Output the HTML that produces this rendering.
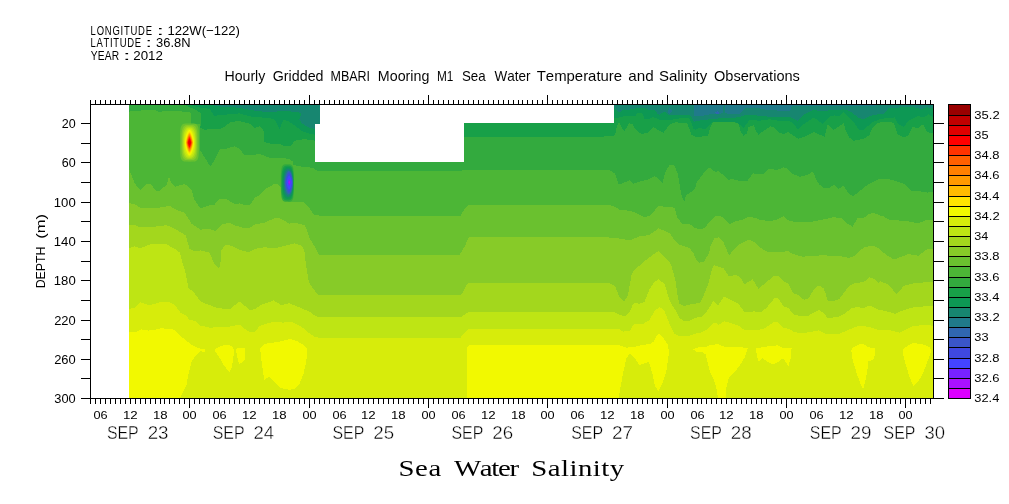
<!DOCTYPE html><html><head><meta charset="utf-8"><style>html,body{margin:0;padding:0;background:#fff;overflow:hidden;}svg{display:block;will-change:transform;}text{font-family:"Liberation Sans",sans-serif;font-kerning:none;fill:#000;}</style></head><body>
<svg width="1009" height="504" viewBox="0 0 1009 504">
<rect width="1009" height="504" fill="#fff"/>
<text transform="translate(91.40,35.20) scale(0.740,1)" x="-1.05" y="0" font-size="12.80" textLength="82.95" lengthAdjust="spacing" style='font-family:"Liberation Sans",sans-serif'>LONGITUDE</text>
<text x="156.61" y="35.20" font-size="12.80" textLength="7.59" lengthAdjust="spacingAndGlyphs" style='font-family:"Liberation Sans",sans-serif'>:</text>
<text x="167.40" y="35.20" font-size="12.80" textLength="72.61" lengthAdjust="spacingAndGlyphs" style='font-family:"Liberation Sans",sans-serif'>122W(−122)</text>
<text transform="translate(91.40,47.00) scale(0.740,1)" x="-1.05" y="0" font-size="12.80" textLength="68.09" lengthAdjust="spacing" style='font-family:"Liberation Sans",sans-serif'>LATITUDE</text>
<text x="145.59" y="47.00" font-size="12.80" textLength="6.42" lengthAdjust="spacingAndGlyphs" style='font-family:"Liberation Sans",sans-serif'>:</text>
<text x="156.11" y="47.00" font-size="12.80" textLength="34.44" lengthAdjust="spacingAndGlyphs" style='font-family:"Liberation Sans",sans-serif'>36.8N</text>
<text transform="translate(90.90,60.10) scale(0.800,1)" x="-0.28" y="0" font-size="12.80" textLength="35.62" lengthAdjust="spacing" style='font-family:"Liberation Sans",sans-serif'>YEAR</text>
<text x="122.91" y="60.10" font-size="12.80" textLength="7.59" lengthAdjust="spacingAndGlyphs" style='font-family:"Liberation Sans",sans-serif'>:</text>
<text x="133.23" y="60.10" font-size="12.80" textLength="29.64" lengthAdjust="spacingAndGlyphs" style='font-family:"Liberation Sans",sans-serif'>2012</text>
<text x="224.44" y="80.60" font-size="14.10" textLength="40.89" lengthAdjust="spacingAndGlyphs" style='font-family:"Liberation Sans",sans-serif' stroke="#fff" stroke-width="0.03">Hourly</text>
<text x="272.78" y="80.60" font-size="14.10" textLength="50.74" lengthAdjust="spacingAndGlyphs" style='font-family:"Liberation Sans",sans-serif' stroke="#fff" stroke-width="0.03">Gridded</text>
<text x="330.47" y="80.60" font-size="14.10" textLength="39.58" lengthAdjust="spacingAndGlyphs" style='font-family:"Liberation Sans",sans-serif' stroke="#fff" stroke-width="0.03">MBARI</text>
<text x="377.83" y="80.60" font-size="14.10" textLength="51.49" lengthAdjust="spacingAndGlyphs" style='font-family:"Liberation Sans",sans-serif' stroke="#fff" stroke-width="0.03">Mooring</text>
<text x="436.93" y="80.60" font-size="14.10" textLength="16.45" lengthAdjust="spacingAndGlyphs" style='font-family:"Liberation Sans",sans-serif' stroke="#fff" stroke-width="0.03">M1</text>
<text x="461.90" y="80.60" font-size="14.10" textLength="23.70" lengthAdjust="spacingAndGlyphs" style='font-family:"Liberation Sans",sans-serif' stroke="#fff" stroke-width="0.03">Sea</text>
<text x="494.44" y="80.60" font-size="14.10" textLength="35.98" lengthAdjust="spacingAndGlyphs" style='font-family:"Liberation Sans",sans-serif' stroke="#fff" stroke-width="0.03">Water</text>
<text x="536.77" y="80.60" font-size="14.10" textLength="85.30" lengthAdjust="spacingAndGlyphs" style='font-family:"Liberation Sans",sans-serif' stroke="#fff" stroke-width="0.03">Temperature</text>
<text x="628.25" y="80.60" font-size="14.10" textLength="25.43" lengthAdjust="spacingAndGlyphs" style='font-family:"Liberation Sans",sans-serif' stroke="#fff" stroke-width="0.03">and</text>
<text x="658.92" y="80.60" font-size="14.10" textLength="48.31" lengthAdjust="spacingAndGlyphs" style='font-family:"Liberation Sans",sans-serif' stroke="#fff" stroke-width="0.03">Salinity</text>
<text x="714.01" y="80.60" font-size="14.10" textLength="85.92" lengthAdjust="spacingAndGlyphs" style='font-family:"Liberation Sans",sans-serif' stroke="#fff" stroke-width="0.03">Observations</text>
<defs><clipPath id="dc"><rect x="129" y="105" width="804" height="293"/></clipPath></defs>
<g clip-path="url(#dc)" shape-rendering="crispEdges">
<rect x="129" y="104" width="804" height="294" fill="#f2f900"/>
<polygon fill="#d7ec0b" points="124.0,99.0 124.0,332.5 129.0,332.5 136.0,332.0 140.9,329.4 148.8,330.6 156.7,329.4 160.7,328.2 172.6,329.4 176.6,331.7 180.6,336.5 185.3,339.7 191.7,345.0 197.9,348.0 205.2,349.6 204.5,352.0 200.0,351.0 196.0,355.0 191.7,361.7 188.5,374.0 186.5,384.6 181.3,395.0 179.0,402.0 467.2,402.0 467.2,347.0 469.0,345.5 600.0,345.4 614.9,345.0 617.9,344.8 626.2,347.7 635.7,346.5 644.6,344.6 650.0,344.2 653.6,341.5 656.5,335.7 659.5,333.7 664.5,339.7 667.9,344.8 669.0,351.9 666.7,369.8 663.1,381.7 658.3,391.8 654.8,385.2 652.4,373.3 648.8,362.0 639.3,365.0 634.5,357.9 629.8,353.1 626.2,359.0 622.6,375.7 619.6,392.4 618.5,402.0 938.0,402.0 938.0,402.0 938.0,99.0"/>
<polygon fill="#bee514" points="124.0,99.0 124.0,308.7 129.0,308.7 134.9,308.2 139.9,302.3 144.0,303.5 149.8,305.3 156.7,303.2 159.7,302.3 169.6,302.3 174.6,304.8 180.6,312.7 185.3,315.0 189.5,319.6 196.4,321.6 200.0,325.4 209.5,327.7 221.4,327.1 230.0,326.5 239.3,324.5 244.0,328.3 250.0,332.5 254.8,332.0 259.5,326.0 263.1,324.8 273.8,321.5 283.3,322.7 290.5,321.5 301.2,326.5 307.1,331.5 314.3,336.7 318.8,337.6 460.7,337.6 464.0,333.0 468.7,328.7 470.0,329.0 600.0,328.8 619.8,329.3 622.8,331.7 629.8,330.8 633.7,324.3 642.7,324.3 649.6,319.8 654.6,310.9 659.5,306.9 664.5,310.9 669.4,323.8 674.4,333.7 679.4,336.2 689.3,335.7 695.2,333.7 701.0,332.7 704.9,330.8 709.9,326.8 714.8,322.3 718.8,324.8 723.8,321.3 729.7,322.8 738.7,325.8 744.6,330.3 756.5,330.3 764.4,328.3 773.4,322.3 778.3,322.3 783.3,327.8 789.2,328.8 794.0,332.2 802.9,333.2 811.8,331.7 818.8,330.3 826.7,334.2 839.6,333.7 849.5,329.3 857.5,326.3 865.4,326.3 872.3,327.8 877.3,329.8 880.0,329.8 890.9,330.4 899.7,332.6 912.8,326.1 923.7,325.0 938.0,326.0 938.0,326.0 938.0,99.0"/>
<polygon fill="#a3d71d" points="124.0,99.0 124.0,247.9 129.0,247.9 134.9,246.4 139.9,248.4 149.8,244.4 166.7,244.4 176.6,249.9 180.1,252.9 182.5,262.8 185.5,272.7 186.0,275.0 188.5,287.9 194.4,292.9 200.0,301.0 206.0,303.9 217.9,308.1 229.8,309.3 239.3,301.5 250.0,309.9 254.8,309.3 261.9,304.5 273.8,300.4 281.0,305.1 289.3,303.3 301.2,308.1 309.5,311.7 313.0,314.5 318.8,317.3 460.7,317.3 464.0,315.0 468.7,311.8 600.0,311.9 614.9,312.4 619.8,314.9 624.8,316.4 629.8,311.9 632.7,305.0 634.7,303.0 639.7,303.7 644.6,301.7 649.6,288.8 654.6,281.8 658.5,279.3 664.5,283.8 669.4,299.7 671.4,304.0 675.4,309.9 679.4,317.9 684.3,321.3 689.3,320.8 695.2,317.9 701.0,316.9 704.9,313.9 709.9,306.9 713.4,301.0 717.8,305.5 721.8,300.0 723.8,296.2 732.7,300.7 738.7,304.0 744.6,312.4 754.5,311.4 760.5,312.4 766.4,307.9 771.4,302.0 774.4,298.2 778.3,298.2 783.3,306.1 789.2,308.6 793.0,314.2 799.9,315.9 807.9,315.9 813.8,312.4 818.8,309.9 823.7,312.9 827.7,318.4 839.6,316.4 845.6,312.9 851.5,308.4 857.5,306.9 863.4,308.4 868.4,305.5 874.3,307.4 877.3,309.4 880.0,309.7 888.7,311.9 895.3,314.1 901.8,310.8 912.8,307.5 923.7,306.4 938.0,306.4 938.0,306.4 938.0,99.0"/>
<polygon fill="#87cb28" points="124.0,99.0 124.0,225.2 129.0,225.2 134.9,225.2 139.9,227.5 154.8,226.7 166.7,225.2 174.6,228.7 184.5,234.6 185.5,235.0 189.5,248.9 194.4,251.4 200.4,250.4 209.3,252.4 214.3,263.8 219.2,268.7 220.5,262.0 221.5,250.0 225.0,245.3 229.9,245.3 239.8,249.8 248.8,252.3 254.7,248.8 264.6,247.3 274.6,248.3 284.5,245.8 294.4,243.4 301.3,245.3 304.3,249.8 305.3,259.7 306.3,266.7 307.7,275.0 308.9,281.9 311.9,287.0 314.3,290.2 318.8,295.3 460.7,295.3 463.5,291.0 466.7,285.0 468.7,283.0 470.0,282.6 600.0,282.8 609.9,283.3 614.9,285.8 619.8,297.7 623.8,301.7 627.8,295.7 629.8,284.8 631.7,273.9 634.7,269.9 642.7,262.7 651.6,255.7 658.5,250.8 664.5,256.7 669.4,261.7 671.4,266.0 675.4,279.8 677.4,294.7 679.4,303.7 684.3,306.1 689.3,304.6 695.0,303.7 700.0,302.7 704.9,292.7 708.9,281.8 711.9,269.9 713.8,265.0 718.8,266.9 723.8,268.4 728.7,276.4 736.7,274.9 740.6,277.9 744.6,284.3 752.5,279.3 758.5,288.8 764.4,283.8 773.4,276.4 778.3,275.4 783.3,281.3 788.3,283.3 790.0,286.8 793.0,293.2 797.9,294.7 803.9,299.7 807.9,299.2 813.8,289.8 818.8,285.3 823.7,288.3 825.7,293.7 827.7,300.7 834.6,300.7 839.6,298.7 844.6,291.7 849.5,285.8 855.5,282.8 863.4,282.3 869.4,277.4 874.3,278.8 878.3,282.8 880.0,281.3 885.2,283.3 888.7,284.6 896.4,294.4 904.0,285.7 912.8,283.5 923.7,282.4 938.0,281.3 938.0,281.3 938.0,99.0"/>
<polygon fill="#6ac12f" points="124.0,99.0 124.0,202.9 129.0,202.9 134.9,204.4 140.9,207.9 154.8,208.4 169.6,205.9 176.6,209.8 184.5,212.8 188.5,218.8 191.5,223.7 200.4,229.7 209.3,228.7 215.3,231.2 220.2,226.7 223.0,223.7 229.9,223.2 234.9,225.6 239.8,226.6 244.8,228.5 249.8,227.6 254.7,224.6 264.6,222.7 274.6,218.2 279.5,218.2 284.5,220.7 289.4,223.7 294.4,222.7 299.4,223.7 304.3,225.0 307.3,231.0 309.3,237.9 314.2,245.8 318.8,254.6 459.7,254.6 464.7,246.6 468.7,237.3 470.0,237.4 600.0,236.9 614.9,237.9 629.8,240.3 639.7,236.4 649.6,234.9 658.5,228.4 669.4,232.9 675.4,241.3 679.4,244.8 689.3,247.8 693.3,252.7 695.2,258.0 699.0,262.7 703.9,261.7 708.9,253.7 710.9,244.8 714.8,237.9 718.8,237.4 723.8,242.8 726.7,249.8 729.2,255.2 734.7,248.8 739.6,244.3 749.1,239.3 754.5,242.3 759.5,247.3 766.4,251.3 770.4,252.2 781.3,251.7 788.3,251.3 790.0,252.7 795.0,254.7 802.9,256.7 822.7,255.2 844.6,256.7 848.5,258.2 854.5,255.7 859.4,250.8 865.4,246.8 873.3,245.8 879.3,248.8 880.0,249.7 886.6,255.1 894.2,259.5 908.4,254.0 918.2,255.8 928.0,248.6 938.0,249.7 938.0,249.7 938.0,99.0"/>
<polygon fill="#4cb636" points="124.0,99.0 124.0,169.3 129.0,169.3 131.0,173.8 134.9,183.7 140.4,190.2 145.8,184.2 150.8,184.2 155.8,190.7 159.7,190.7 166.7,184.7 169.1,176.3 170.6,181.7 175.6,186.7 179.6,185.2 184.5,184.2 188.5,186.7 191.5,190.0 194.4,199.9 200.4,208.4 209.3,205.4 214.3,204.9 219.2,198.9 226.0,198.8 234.9,204.3 239.8,203.3 244.8,205.3 249.8,205.3 254.7,197.9 259.7,195.4 264.6,189.4 269.6,186.9 274.6,183.5 277.5,183.5 280.5,186.9 283.5,199.8 289.4,202.3 304.3,202.3 309.3,207.8 312.3,212.7 315.2,215.2 320.0,215.6 460.7,215.5 464.0,210.0 468.7,205.0 470.0,205.2 600.0,204.8 609.9,205.3 614.9,206.8 619.8,209.8 629.8,210.8 635.7,212.7 644.6,217.2 649.6,215.7 658.5,206.3 669.4,206.8 674.4,207.8 677.4,217.7 682.3,223.7 689.3,223.7 695.0,227.9 701.0,229.4 704.9,227.9 708.9,222.7 715.8,216.2 720.8,216.2 724.8,219.2 729.2,224.1 734.7,221.7 742.6,219.7 748.6,216.7 754.5,217.7 759.5,219.7 769.4,221.2 776.3,219.7 783.3,216.2 788.3,220.2 790.0,220.7 795.0,222.2 809.8,222.2 819.8,220.2 833.7,217.2 841.6,218.2 847.5,223.7 852.5,226.6 857.5,218.2 863.4,218.2 869.4,213.7 874.3,213.2 880.0,215.4 884.2,216.7 887.9,219.4 907.8,221.3 917.7,223.3 925.6,220.4 938.0,220.4 938.0,220.4 938.0,99.0"/>
<polygon fill="#33aa3e" points="124.0,99.0 124.0,111.9 129.0,111.9 131.0,110.9 139.9,110.9 141.9,109.9 154.8,109.9 158.7,111.9 162.7,111.4 172.6,110.9 180.6,111.4 189.5,112.4 191.0,114.0 191.0,124.0 199.5,124.0 199.8,149.8 204.8,157.7 206.3,159.9 210.3,166.5 214.3,160.9 218.3,152.0 220.0,149.0 225.0,148.9 234.9,146.4 239.8,148.9 243.8,154.9 249.8,155.4 259.7,153.9 269.6,157.9 279.5,157.9 289.4,158.8 292.9,161.8 293.4,164.8 299.4,166.3 309.3,167.3 313.0,168.0 318.0,171.4 458.7,171.4 464.7,169.8 470.0,169.8 600.0,169.8 609.9,170.3 614.9,173.7 618.8,184.6 624.8,182.2 629.8,180.2 633.7,183.7 639.7,181.7 647.6,179.7 654.6,176.2 658.5,178.7 662.5,182.7 665.5,171.7 669.4,165.3 674.4,165.3 677.4,172.7 678.9,180.0 680.4,189.9 682.3,197.9 684.3,201.3 686.3,194.9 691.3,191.9 695.2,187.9 697.0,181.7 701.0,176.7 704.9,171.7 708.9,167.3 714.8,171.7 718.8,171.3 728.7,179.7 732.7,179.2 738.7,180.7 747.6,180.7 753.5,172.7 754.5,173.7 763.5,173.7 768.4,168.8 772.4,168.8 774.4,169.8 780.3,169.3 783.3,167.3 787.3,168.3 792.2,173.7 795.0,174.7 799.9,176.7 807.9,174.7 812.8,171.7 813.8,173.7 816.8,180.7 819.8,185.0 824.7,188.4 829.7,187.9 833.7,184.5 838.6,188.9 843.6,185.5 847.5,191.9 852.5,196.4 857.5,192.9 867.4,185.0 877.3,180.0 880.0,178.7 891.9,179.7 903.8,183.7 911.7,191.2 919.7,191.2 927.6,192.6 938.0,191.2 938.0,191.2 938.0,99.0"/>
<polygon fill="#18a048" points="124.0,99.0 124.0,95.0 124.0,95.0 180.0,95.0 183.5,104.5 188.5,107.0 194.4,108.9 200.4,112.9 201.4,114.9 200.4,127.8 204.4,129.8 214.3,128.8 220.0,128.8 225.0,126.8 229.9,122.3 234.5,121.5 239.8,121.3 249.8,123.8 254.7,127.8 259.7,126.3 263.7,130.8 263.7,142.0 269.6,143.5 279.5,144.0 284.5,146.0 291.4,145.5 294.4,141.0 297.4,140.0 304.3,139.2 315.0,140.7 320.0,150.0 463.0,160.0 464.0,136.8 600.0,136.8 613.9,135.7 615.4,133.7 616.9,125.8 619.3,122.3 621.8,127.8 624.3,131.7 628.8,123.3 632.7,124.3 635.7,129.8 641.7,134.2 647.6,132.7 653.6,127.3 659.5,130.8 663.5,132.7 669.4,124.8 675.4,122.3 687.3,123.3 689.3,128.8 691.3,134.7 695.2,136.7 700.0,136.7 704.0,136.2 707.9,135.7 710.9,125.8 712.9,122.3 734.7,122.3 738.7,123.8 740.6,131.7 743.6,135.7 746.6,133.7 748.6,126.8 753.5,125.3 756.5,131.7 758.5,134.7 764.4,130.3 770.4,126.3 774.4,127.8 779.3,132.7 784.3,134.2 788.3,131.3 790.0,133.2 797.9,138.7 804.9,136.7 813.8,132.2 824.7,136.7 827.7,124.3 833.7,129.8 843.6,123.3 845.6,129.8 849.5,137.7 853.5,140.7 863.4,139.0 869.6,134.8 872.3,127.8 877.5,123.0 884.2,121.8 890.2,121.9 893.8,123.2 897.3,133.9 903.6,137.5 908.0,135.7 912.5,126.8 917.9,128.1 923.2,124.1 926.8,132.1 938.0,133.9 938.0,133.9 938.0,99.0"/>
<polygon fill="#0d9854" points="124.0,99.0 124.0,95.0 124.0,95.0 185.0,95.0 188.5,104.5 194.4,106.0 200.4,107.5 209.3,108.9 212.3,112.9 214.3,115.9 220.2,114.9 225.0,114.9 229.9,113.9 239.8,113.4 249.8,116.4 259.7,117.4 269.6,117.9 274.6,119.8 279.5,128.8 283.5,119.8 289.4,121.8 295.4,125.8 301.3,130.8 309.3,133.7 315.0,134.7 320.0,130.0 464.0,120.0 600.0,120.0 613.9,117.7 618.5,117.7 622.7,116.5 631.6,116.4 636.0,115.5 637.1,113.1 641.9,113.1 643.0,114.5 643.9,117.1 644.7,119.5 647.8,119.1 650.2,118.3 653.1,117.1 656.7,118.3 659.0,119.5 665.0,120.0 670.0,120.1 679.4,118.4 689.3,118.4 691.3,122.8 693.3,128.8 695.2,129.8 700.0,127.8 704.9,129.3 709.9,124.8 712.0,122.5 734.7,121.8 741.6,125.8 743.6,127.8 749.6,119.8 759.5,120.8 769.4,119.3 779.3,120.8 789.2,121.3 793.0,122.8 797.9,129.8 802.9,124.8 813.8,117.4 822.7,123.8 829.7,116.4 834.6,115.4 838.6,116.4 843.6,112.4 849.5,117.9 854.5,123.2 858.9,129.5 863.4,129.9 872.3,122.3 881.3,118.8 894.6,117.4 898.2,124.1 903.6,126.8 908.9,120.5 917.9,116.1 924.1,117.4 928.6,114.3 938.0,121.4 938.0,121.4 938.0,99.0"/>
<polygon fill="#178670" points="124.0,99.0 124.0,95.0 124.0,95.0 205.0,95.0 209.3,104.5 214.0,105.5 220.0,106.5 229.9,106.9 239.8,107.9 249.8,109.9 259.7,111.4 269.6,111.9 279.5,111.4 289.4,111.4 297.4,111.9 301.3,113.9 299.4,119.8 302.3,123.8 309.3,127.8 315.0,128.8 320.0,128.0 322.0,110.0 600.0,110.0 613.9,108.2 614.4,108.2 619.1,112.6 623.9,109.4 628.0,109.8 633.0,109.2 636.0,108.2 645.0,108.2 648.2,109.6 654.9,110.0 657.3,113.5 659.6,114.7 663.8,111.7 666.0,112.5 668.0,114.9 674.8,115.4 684.7,114.9 689.3,114.5 692.7,118.8 693.7,121.8 700.0,120.5 704.6,119.8 714.8,118.8 724.4,117.9 739.6,117.4 741.2,115.9 744.6,115.4 754.5,115.2 764.4,116.4 774.4,116.9 784.3,116.9 790.0,116.9 797.9,120.8 804.9,113.9 812.8,109.9 819.8,110.9 829.7,110.4 843.6,109.4 849.5,110.9 858.9,117.9 863.4,119.2 872.3,115.2 884.8,113.4 888.4,108.5 903.6,107.1 912.5,107.1 921.4,108.9 926.8,107.1 938.0,109.8 938.0,109.8 938.0,99.0"/>
<polygon fill="#207a8a" points="124.0,99.0 124.0,95.0 124.0,95.0 660.0,95.0 690.0,100.0 693.7,104.0 693.7,110.0 694.2,115.9 702.6,115.9 709.5,114.4 714.5,113.9 723.3,113.4 723.6,104.5 724.6,104.5 724.9,113.4 734.3,113.9 740.2,113.9 742.2,111.4 745.0,108.5 754.5,107.4 764.4,109.4 774.4,110.4 784.3,110.9 790.0,110.9 792.0,106.0 819.8,105.5 849.5,106.4 864.4,106.0 875.0,106.2 880.0,100.0 938.0,95.0 938.0,95.0 938.0,99.0"/>
<polygon fill="#f2f900" points="214.6,349.2 221.4,345.6 228.6,345.0 232.7,346.8 233.9,349.8 233.3,359.3 231.5,367.6 229.2,372.4 223.8,365.2 219.0,356.9 215.5,352.1"/>
<polygon fill="#f2f900" points="235.7,348.6 245.0,348.0 245.0,359.3 239.3,364.6 237.5,358.1 236.3,352.1"/>
<polygon fill="#f2f900" points="260.1,348.6 264.3,343.8 273.8,342.6 283.3,340.8 290.5,339.0 297.6,341.4 303.6,345.0 307.1,349.2 306.5,359.3 305.5,365.0 303.5,373.8 299.5,383.7 294.1,389.2 288.6,389.7 279.7,387.7 273.7,381.7 269.3,376.3 264.3,379.8 262.8,369.8 261.3,359.9"/>
<polygon fill="#f2f900" points="692.9,349.2 698.1,347.3 705.8,347.3 711.0,344.7 718.7,344.3 723.9,346.6 741.9,347.3 747.7,348.5 744.5,357.6 739.4,366.0 734.2,372.4 729.0,377.6 726.5,386.6 725.8,399.0 718.1,399.0 716.1,386.6 713.5,378.9 709.7,371.1 707.1,360.8 705.8,354.4 701.9,351.8 696.8,351.8"/>
<polygon fill="#f2f900" points="756.1,348.5 762.6,347.3 770.3,346.0 778.1,345.3 783.2,347.9 791.6,347.9 791.0,356.9 788.4,366.0 783.2,358.2 778.1,362.1 772.9,364.7 767.7,362.1 762.6,358.2 758.7,362.1 756.8,355.6"/>
<polygon fill="#f2f900" points="851.6,348.5 858.1,344.7 863.2,343.4 867.7,347.3 874.8,347.9 875.5,353.1 873.5,359.5 869.7,360.8 868.4,360.8 867.1,372.4 865.2,381.5 863.2,389.8 860.6,384.0 856.8,373.7 852.9,360.8 851.4,351.8"/>
<polygon fill="#f2f900" points="903.2,349.2 908.4,345.3 913.5,342.7 918.7,344.0 925.2,344.7 930.3,347.9 931.0,351.8 927.7,360.8 923.9,371.1 920.0,378.9 913.5,386.0 909.7,377.6 905.8,364.7 903.2,354.4"/>
<polygon fill="#207a8a" points="667.4,111.2 669.8,108.0 672.3,111.2 669.8,114.4"/>
<polygon fill="#3066b0" points="715.5,112.5 717.5,111.4 719.4,112.0 718.5,113.9 716.0,113.6"/>
<polygon fill="#fff" points="320.0,100.0 614.0,100.0 614.0,123.0 464.0,123.0 464.0,162.0 315.0,162.0 315.0,124.0 320.0,124.0"/>
</g>
<polygon fill="#6ac12f" points="198.9,142.6 198.9,151.1 198.8,153.7 198.6,155.6 198.4,157.1 198.1,158.3 197.7,159.2 197.2,160.0 196.6,160.6 195.9,161.1 195.0,161.4 193.7,161.6 189.5,161.7 185.3,161.6 184.0,161.4 183.1,161.1 182.4,160.6 181.8,160.0 181.3,159.2 180.9,158.3 180.6,157.1 180.4,155.6 180.2,153.7 180.1,151.1 180.1,142.6 180.1,134.1 180.2,131.5 180.4,129.6 180.6,128.1 180.9,126.9 181.3,126.0 181.8,125.2 182.4,124.6 183.1,124.1 184.0,123.8 185.3,123.6 189.5,123.5 193.7,123.6 195.0,123.8 195.9,124.1 196.6,124.6 197.2,125.2 197.7,126.0 198.1,126.9 198.4,128.1 198.6,129.6 198.8,131.5 198.9,134.1"/>
<polygon fill="#87cb28" points="197.5,142.6 197.5,149.0 197.4,151.6 197.2,153.5 196.9,155.0 196.6,156.3 196.2,157.4 195.7,158.3 195.2,159.0 194.4,159.5 193.6,159.9 192.4,160.1 189.5,160.2 186.6,160.1 185.4,159.9 184.6,159.5 183.8,159.0 183.3,158.3 182.8,157.4 182.4,156.3 182.1,155.0 181.8,153.5 181.6,151.6 181.5,149.0 181.5,142.6 181.5,136.2 181.6,133.6 181.8,131.7 182.1,130.2 182.4,128.9 182.8,127.8 183.3,126.9 183.8,126.2 184.6,125.7 185.4,125.3 186.6,125.1 189.5,125.0 192.4,125.1 193.6,125.3 194.4,125.7 195.2,126.2 195.7,126.9 196.2,127.8 196.6,128.9 196.9,130.2 197.2,131.7 197.4,133.6 197.5,136.2"/>
<polygon fill="#a3d71d" points="196.5,142.6 196.5,147.2 196.3,149.6 196.2,151.6 195.9,153.2 195.6,154.6 195.1,155.8 194.6,156.8 194.0,157.6 193.3,158.2 192.5,158.6 191.5,158.9 189.5,159.0 187.5,158.9 186.5,158.6 185.7,158.2 185.0,157.6 184.4,156.8 183.9,155.8 183.4,154.6 183.1,153.2 182.8,151.6 182.7,149.6 182.5,147.2 182.5,142.6 182.5,138.0 182.7,135.6 182.8,133.6 183.1,132.0 183.4,130.6 183.9,129.4 184.4,128.4 185.0,127.6 185.7,127.0 186.5,126.6 187.5,126.3 189.5,126.2 191.5,126.3 192.5,126.6 193.3,127.0 194.0,127.6 194.6,128.4 195.1,129.4 195.6,130.6 195.9,132.0 196.2,133.6 196.3,135.6 196.5,138.0"/>
<polygon fill="#bee514" points="195.6,142.6 195.6,145.8 195.4,148.0 195.2,149.9 195.0,151.5 194.6,153.0 194.2,154.2 193.7,155.3 193.1,156.2 192.4,156.9 191.7,157.4 190.8,157.7 189.5,157.8 188.2,157.7 187.3,157.4 186.6,156.9 185.9,156.2 185.3,155.3 184.8,154.2 184.4,153.0 184.0,151.5 183.8,149.9 183.6,148.0 183.4,145.8 183.4,142.6 183.4,139.4 183.6,137.2 183.8,135.3 184.0,133.7 184.4,132.2 184.8,131.0 185.3,129.9 185.9,129.0 186.6,128.3 187.3,127.8 188.2,127.5 189.5,127.4 190.8,127.5 191.7,127.8 192.4,128.3 193.1,129.0 193.7,129.9 194.2,131.0 194.6,132.2 195.0,133.7 195.2,135.3 195.4,137.2 195.6,139.4"/>
<polygon fill="#d7ec0b" points="194.8,142.6 194.8,144.6 194.6,146.5 194.4,148.2 194.1,149.8 193.8,151.3 193.3,152.7 192.8,153.8 192.2,154.8 191.6,155.6 191.0,156.1 190.3,156.5 189.5,156.6 188.7,156.5 188.0,156.1 187.4,155.6 186.8,154.8 186.2,153.8 185.7,152.7 185.2,151.3 184.9,149.8 184.6,148.2 184.4,146.5 184.2,144.6 184.2,142.6 184.2,140.6 184.4,138.7 184.6,137.0 184.9,135.4 185.2,133.9 185.7,132.5 186.2,131.4 186.8,130.4 187.4,129.6 188.0,129.1 188.7,128.7 189.5,128.6 190.3,128.7 191.0,129.1 191.6,129.6 192.2,130.4 192.8,131.4 193.3,132.5 193.8,133.9 194.1,135.4 194.4,137.0 194.6,138.7 194.8,140.6"/>
<polygon fill="#f2f900" points="194.0,142.6 194.0,143.8 193.8,145.2 193.6,146.7 193.3,148.3 192.9,149.7 192.5,151.1 192.0,152.3 191.5,153.4 191.0,154.3 190.4,154.9 189.9,155.3 189.5,155.4 189.1,155.3 188.6,154.9 188.0,154.3 187.5,153.4 187.0,152.3 186.5,151.1 186.1,149.7 185.7,148.3 185.4,146.7 185.2,145.2 185.0,143.8 185.0,142.6 185.0,141.4 185.2,140.0 185.4,138.5 185.7,136.9 186.1,135.5 186.5,134.1 187.0,132.9 187.5,131.8 188.0,130.9 188.6,130.3 189.1,129.9 189.5,129.8 189.9,129.9 190.4,130.3 191.0,130.9 191.5,131.8 192.0,132.9 192.5,134.1 192.9,135.5 193.3,136.9 193.6,138.5 193.8,140.0 194.0,141.4"/>
<polygon fill="#ffe400" points="193.4,142.6 193.4,143.4 193.2,144.5 193.0,145.8 192.7,147.1 192.4,148.5 192.0,149.8 191.5,151.0 191.0,152.0 190.6,152.9 190.1,153.5 189.8,153.9 189.5,154.0 189.2,153.9 188.9,153.5 188.4,152.9 188.0,152.0 187.5,151.0 187.0,149.8 186.6,148.5 186.3,147.1 186.0,145.8 185.8,144.5 185.6,143.4 185.6,142.6 185.6,141.8 185.8,140.7 186.0,139.4 186.3,138.1 186.6,136.7 187.0,135.4 187.5,134.2 188.0,133.2 188.4,132.3 188.9,131.7 189.2,131.3 189.5,131.2 189.8,131.3 190.1,131.7 190.6,132.3 191.0,133.2 191.5,134.2 192.0,135.4 192.4,136.7 192.7,138.1 193.0,139.4 193.2,140.7 193.4,141.8"/>
<polygon fill="#ffbb00" points="192.9,142.6 192.9,143.1 192.7,144.1 192.5,145.1 192.3,146.3 191.9,147.5 191.6,148.7 191.2,149.8 190.8,150.7 190.4,151.5 190.0,152.1 189.7,152.5 189.5,152.6 189.3,152.5 189.0,152.1 188.6,151.5 188.2,150.7 187.8,149.8 187.4,148.7 187.1,147.5 186.7,146.3 186.5,145.1 186.3,144.1 186.1,143.1 186.1,142.6 186.1,142.1 186.3,141.1 186.5,140.1 186.7,138.9 187.1,137.7 187.4,136.5 187.8,135.4 188.2,134.5 188.6,133.7 189.0,133.1 189.3,132.7 189.5,132.6 189.7,132.7 190.0,133.1 190.4,133.7 190.8,134.5 191.2,135.4 191.6,136.5 191.9,137.7 192.3,138.9 192.5,140.1 192.7,141.1 192.9,142.1"/>
<polygon fill="#ff9a00" points="192.5,142.6 192.5,143.0 192.3,143.8 192.2,144.7 191.9,145.8 191.6,146.8 191.3,147.9 190.9,148.8 190.6,149.7 190.2,150.4 189.9,151.0 189.6,151.3 189.5,151.4 189.4,151.3 189.1,151.0 188.8,150.4 188.4,149.7 188.1,148.8 187.7,147.9 187.4,146.8 187.1,145.8 186.8,144.7 186.7,143.8 186.5,143.0 186.5,142.6 186.5,142.2 186.7,141.4 186.8,140.5 187.1,139.4 187.4,138.4 187.7,137.3 188.1,136.4 188.4,135.5 188.8,134.8 189.1,134.2 189.4,133.9 189.5,133.8 189.6,133.9 189.9,134.2 190.2,134.8 190.6,135.5 190.9,136.4 191.3,137.3 191.6,138.4 191.9,139.4 192.2,140.5 192.3,141.4 192.5,142.2"/>
<polygon fill="#ff8000" points="192.2,142.6 192.2,142.9 192.1,143.6 191.9,144.4 191.7,145.3 191.4,146.2 191.1,147.2 190.8,148.1 190.4,148.9 190.1,149.5 189.8,150.0 189.6,150.3 189.5,150.4 189.4,150.3 189.2,150.0 188.9,149.5 188.6,148.9 188.2,148.1 187.9,147.2 187.6,146.2 187.3,145.3 187.1,144.4 186.9,143.6 186.8,142.9 186.8,142.6 186.8,142.3 186.9,141.6 187.1,140.8 187.3,139.9 187.6,139.0 187.9,138.0 188.2,137.1 188.6,136.3 188.9,135.7 189.2,135.2 189.4,134.9 189.5,134.8 189.6,134.9 189.8,135.2 190.1,135.7 190.4,136.3 190.8,137.1 191.1,138.0 191.4,139.0 191.7,139.9 191.9,140.8 192.1,141.6 192.2,142.3"/>
<polygon fill="#ff6000" points="191.9,142.6 191.9,142.9 191.8,143.5 191.6,144.2 191.4,144.9 191.2,145.8 190.9,146.6 190.6,147.4 190.3,148.1 190.0,148.6 189.8,149.0 189.6,149.3 189.5,149.4 189.4,149.3 189.2,149.0 189.0,148.6 188.7,148.1 188.4,147.4 188.1,146.6 187.8,145.8 187.6,144.9 187.4,144.2 187.2,143.5 187.1,142.9 187.1,142.6 187.1,142.3 187.2,141.7 187.4,141.0 187.6,140.3 187.8,139.4 188.1,138.6 188.4,137.8 188.7,137.1 189.0,136.6 189.2,136.2 189.4,135.9 189.5,135.8 189.6,135.9 189.8,136.2 190.0,136.6 190.3,137.1 190.6,137.8 190.9,138.6 191.2,139.4 191.4,140.3 191.6,141.0 191.8,141.7 191.9,142.3"/>
<polygon fill="#ff3300" points="191.5,142.6 191.5,142.8 191.4,143.3 191.3,143.9 191.1,144.5 190.9,145.2 190.7,145.9 190.4,146.5 190.2,147.1 190.0,147.6 189.8,147.9 189.6,148.1 189.5,148.2 189.4,148.1 189.2,147.9 189.0,147.6 188.8,147.1 188.6,146.5 188.3,145.9 188.1,145.2 187.9,144.5 187.7,143.9 187.6,143.3 187.5,142.8 187.5,142.6 187.5,142.4 187.6,141.9 187.7,141.3 187.9,140.7 188.1,140.0 188.3,139.3 188.6,138.7 188.8,138.1 189.0,137.6 189.2,137.3 189.4,137.1 189.5,137.0 189.6,137.1 189.8,137.3 190.0,137.6 190.2,138.1 190.4,138.7 190.7,139.3 190.9,140.0 191.1,140.7 191.3,141.3 191.4,141.9 191.5,142.4"/>
<polygon fill="#ff0000" points="191.1,142.6 191.1,142.8 191.0,143.2 190.9,143.6 190.8,144.1 190.6,144.7 190.4,145.2 190.2,145.7 190.1,146.1 189.9,146.5 189.7,146.8 189.6,146.9 189.5,147.0 189.4,146.9 189.3,146.8 189.1,146.5 188.9,146.1 188.8,145.7 188.6,145.2 188.4,144.7 188.2,144.1 188.1,143.6 188.0,143.2 187.9,142.8 187.9,142.6 187.9,142.4 188.0,142.0 188.1,141.6 188.2,141.1 188.4,140.5 188.6,140.0 188.8,139.5 188.9,139.1 189.1,138.7 189.3,138.4 189.4,138.3 189.5,138.2 189.6,138.3 189.7,138.4 189.9,138.7 190.1,139.1 190.2,139.5 190.4,140.0 190.6,140.5 190.8,141.1 190.9,141.6 191.0,142.0 191.1,142.4"/>
<polygon fill="#e00000" points="190.5,142.6 190.5,142.7 190.4,142.9 190.4,143.2 190.3,143.5 190.2,143.8 190.1,144.1 190.0,144.4 189.8,144.7 189.7,144.9 189.6,145.1 189.5,145.2 189.5,145.2 189.5,145.2 189.4,145.1 189.3,144.9 189.2,144.7 189.0,144.4 188.9,144.1 188.8,143.8 188.7,143.5 188.6,143.2 188.6,142.9 188.5,142.7 188.5,142.6 188.5,142.5 188.6,142.3 188.6,142.0 188.7,141.7 188.8,141.4 188.9,141.1 189.0,140.8 189.2,140.5 189.3,140.3 189.4,140.1 189.5,140.0 189.5,140.0 189.5,140.0 189.6,140.1 189.7,140.3 189.8,140.5 190.0,140.8 190.1,141.1 190.2,141.4 190.3,141.7 190.4,142.0 190.4,142.3 190.5,142.5"/>
<polygon fill="#33aa3e" points="293.9,183.0 293.9,189.8 293.8,192.6 293.6,194.6 293.4,196.3 293.2,197.7 292.9,198.8 292.5,199.7 292.0,200.5 291.4,201.1 290.7,201.5 289.7,201.7 287.4,201.8 285.1,201.7 284.1,201.5 283.4,201.1 282.8,200.5 282.3,199.7 281.9,198.8 281.6,197.7 281.4,196.3 281.2,194.6 281.0,192.6 280.9,189.8 280.9,183.0 280.9,176.2 281.0,173.4 281.2,171.4 281.4,169.7 281.6,168.3 281.9,167.2 282.3,166.3 282.8,165.5 283.4,164.9 284.1,164.5 285.1,164.3 287.4,164.2 289.7,164.3 290.7,164.5 291.4,164.9 292.0,165.5 292.5,166.3 292.9,167.2 293.2,168.3 293.4,169.7 293.6,171.4 293.8,173.4 293.9,176.2"/>
<polygon fill="#18a048" points="293.5,183.0 293.5,188.3 293.4,190.9 293.2,192.9 293.0,194.6 292.7,196.0 292.4,197.2 292.0,198.2 291.5,199.0 291.0,199.6 290.3,200.0 289.4,200.3 287.6,200.4 285.8,200.3 284.9,200.0 284.2,199.6 283.7,199.0 283.2,198.2 282.8,197.2 282.5,196.0 282.2,194.6 282.0,192.9 281.8,190.9 281.7,188.3 281.7,183.0 281.7,177.7 281.8,175.1 282.0,173.1 282.2,171.4 282.5,170.0 282.8,168.8 283.2,167.8 283.7,167.0 284.2,166.4 284.9,166.0 285.8,165.7 287.6,165.6 289.4,165.7 290.3,166.0 291.0,166.4 291.5,167.0 292.0,167.8 292.4,168.8 292.7,170.0 293.0,171.4 293.2,173.1 293.4,175.1 293.5,177.7"/>
<polygon fill="#0d9854" points="293.2,182.9 293.2,186.6 293.1,189.0 292.9,191.0 292.7,192.7 292.4,194.1 292.0,195.4 291.6,196.5 291.1,197.3 290.6,198.0 289.9,198.5 289.1,198.8 287.9,198.9 286.7,198.8 285.9,198.5 285.2,198.0 284.7,197.3 284.2,196.5 283.8,195.4 283.4,194.1 283.1,192.7 282.9,191.0 282.7,189.0 282.6,186.6 282.6,182.9 282.6,179.2 282.7,176.8 282.9,174.8 283.1,173.1 283.4,171.7 283.8,170.4 284.2,169.3 284.7,168.5 285.2,167.8 285.9,167.3 286.7,167.0 287.9,166.9 289.1,167.0 289.9,167.3 290.6,167.8 291.1,168.5 291.6,169.3 292.0,170.4 292.4,171.7 292.7,173.1 292.9,174.8 293.1,176.8 293.2,179.2"/>
<polygon fill="#178670" points="293.0,182.8 293.0,185.3 292.9,187.2 292.7,189.0 292.4,190.7 292.1,192.2 291.8,193.5 291.3,194.6 290.8,195.5 290.3,196.2 289.7,196.8 289.0,197.1 288.2,197.2 287.4,197.1 286.7,196.8 286.1,196.2 285.6,195.5 285.1,194.6 284.6,193.5 284.3,192.2 284.0,190.7 283.7,189.0 283.5,187.2 283.4,185.3 283.4,182.8 283.4,180.3 283.5,178.4 283.7,176.6 284.0,174.9 284.3,173.4 284.6,172.1 285.1,171.0 285.6,170.1 286.1,169.4 286.7,168.8 287.4,168.5 288.2,168.4 289.0,168.5 289.7,168.8 290.3,169.4 290.8,170.1 291.3,171.0 291.8,172.1 292.1,173.4 292.4,174.9 292.7,176.6 292.9,178.4 293.0,180.3"/>
<polygon fill="#207a8a" points="292.9,182.7 292.9,184.4 292.8,186.0 292.6,187.6 292.3,189.1 292.0,190.5 291.6,191.8 291.2,192.9 290.7,193.8 290.2,194.5 289.6,195.1 289.1,195.4 288.5,195.5 287.9,195.4 287.4,195.1 286.8,194.5 286.3,193.8 285.8,192.9 285.4,191.8 285.0,190.5 284.7,189.1 284.4,187.6 284.2,186.0 284.1,184.4 284.1,182.7 284.1,181.0 284.2,179.4 284.4,177.8 284.7,176.3 285.0,174.9 285.4,173.6 285.8,172.5 286.3,171.6 286.8,170.9 287.4,170.3 287.9,170.0 288.5,169.9 289.1,170.0 289.6,170.3 290.2,170.9 290.7,171.6 291.2,172.5 291.6,173.6 292.0,174.9 292.3,176.3 292.6,177.8 292.8,179.4 292.9,181.0"/>
<polygon fill="#3066b0" points="292.8,182.6 292.8,183.8 292.6,185.2 292.5,186.6 292.2,188.0 291.9,189.3 291.5,190.5 291.1,191.6 290.7,192.5 290.2,193.2 289.7,193.8 289.2,194.1 288.8,194.2 288.4,194.1 287.9,193.8 287.4,193.2 286.9,192.5 286.5,191.6 286.1,190.5 285.7,189.3 285.4,188.0 285.1,186.6 285.0,185.2 284.8,183.8 284.8,182.6 284.8,181.4 285.0,180.0 285.1,178.6 285.4,177.2 285.7,175.9 286.1,174.7 286.5,173.6 286.9,172.7 287.4,172.0 287.9,171.4 288.4,171.1 288.8,171.0 289.2,171.1 289.7,171.4 290.2,172.0 290.7,172.7 291.1,173.6 291.5,174.7 291.9,175.9 292.2,177.2 292.5,178.6 292.6,180.0 292.8,181.4"/>
<polygon fill="#3a55c8" points="292.6,182.5 292.6,183.3 292.4,184.4 292.3,185.6 292.0,186.9 291.7,188.1 291.3,189.2 290.9,190.3 290.5,191.2 290.1,191.9 289.7,192.5 289.3,192.8 289.0,192.9 288.7,192.8 288.3,192.5 287.9,191.9 287.5,191.2 287.1,190.3 286.7,189.2 286.3,188.1 286.0,186.9 285.7,185.6 285.6,184.4 285.4,183.3 285.4,182.5 285.4,181.7 285.6,180.6 285.7,179.4 286.0,178.1 286.3,176.9 286.7,175.8 287.1,174.7 287.5,173.8 287.9,173.1 288.3,172.5 288.7,172.2 289.0,172.1 289.3,172.2 289.7,172.5 290.1,173.1 290.5,173.8 290.9,174.7 291.3,175.8 291.7,176.9 292.0,178.1 292.3,179.4 292.4,180.6 292.6,181.7"/>
<polygon fill="#3f48e0" points="292.2,182.5 292.2,183.1 292.1,184.0 291.9,184.9 291.7,186.0 291.4,187.0 291.1,188.0 290.7,189.0 290.3,189.8 290.0,190.4 289.6,190.9 289.3,191.2 289.1,191.3 288.9,191.2 288.6,190.9 288.2,190.4 287.9,189.8 287.5,189.0 287.1,188.0 286.8,187.0 286.5,186.0 286.3,184.9 286.1,184.0 286.0,183.1 286.0,182.5 286.0,181.9 286.1,181.0 286.3,180.1 286.5,179.0 286.8,178.0 287.1,177.0 287.5,176.0 287.9,175.2 288.2,174.6 288.6,174.1 288.9,173.8 289.1,173.7 289.3,173.8 289.6,174.1 290.0,174.6 290.3,175.2 290.7,176.0 291.1,177.0 291.4,178.0 291.7,179.0 291.9,180.1 292.1,181.0 292.2,181.9"/>
<polygon fill="#4444ff" points="291.8,182.4 291.8,182.8 291.7,183.4 291.5,184.2 291.3,185.0 291.1,185.8 290.8,186.7 290.5,187.4 290.2,188.1 289.9,188.7 289.6,189.1 289.3,189.3 289.2,189.4 289.1,189.3 288.8,189.1 288.5,188.7 288.2,188.1 287.9,187.4 287.6,186.7 287.3,185.8 287.1,185.0 286.9,184.2 286.7,183.4 286.6,182.8 286.6,182.4 286.6,182.0 286.7,181.4 286.9,180.6 287.1,179.8 287.3,179.0 287.6,178.1 287.9,177.4 288.2,176.7 288.5,176.1 288.8,175.7 289.1,175.5 289.2,175.4 289.3,175.5 289.6,175.7 289.9,176.1 290.2,176.7 290.5,177.4 290.8,178.1 291.1,179.0 291.3,179.8 291.5,180.6 291.7,181.4 291.8,182.0"/>
<polygon fill="#7722ff" points="290.7,182.4 290.7,182.6 290.6,182.8 290.5,183.2 290.4,183.6 290.3,184.0 290.1,184.5 290.0,184.9 289.8,185.2 289.6,185.5 289.5,185.7 289.4,185.9 289.3,185.9 289.2,185.9 289.1,185.7 289.0,185.5 288.8,185.2 288.6,184.9 288.5,184.5 288.3,184.0 288.2,183.6 288.1,183.2 288.0,182.8 287.9,182.6 287.9,182.4 287.9,182.2 288.0,182.0 288.1,181.6 288.2,181.2 288.3,180.8 288.5,180.3 288.6,179.9 288.8,179.6 289.0,179.3 289.1,179.1 289.2,178.9 289.3,178.9 289.4,178.9 289.5,179.1 289.6,179.3 289.8,179.6 290.0,179.9 290.1,180.3 290.3,180.8 290.4,181.2 290.5,181.6 290.6,182.0 290.7,182.2"/>
<polygon fill="#aa11ff" points="290.0,182.4 290.0,182.5 290.0,182.6 289.9,182.7 289.9,182.9 289.8,183.1 289.7,183.3 289.6,183.5 289.5,183.6 289.5,183.7 289.4,183.8 289.3,183.9 289.3,183.9 289.3,183.9 289.2,183.8 289.1,183.7 289.1,183.6 289.0,183.5 288.9,183.3 288.8,183.1 288.7,182.9 288.7,182.7 288.6,182.6 288.6,182.5 288.6,182.4 288.6,182.3 288.6,182.2 288.7,182.1 288.7,181.9 288.8,181.7 288.9,181.5 289.0,181.3 289.1,181.2 289.1,181.1 289.2,181.0 289.3,180.9 289.3,180.9 289.3,180.9 289.4,181.0 289.5,181.1 289.5,181.2 289.6,181.3 289.7,181.5 289.8,181.7 289.9,181.9 289.9,182.1 290.0,182.2 290.0,182.3"/>
<g stroke="#000" stroke-width="1" shape-rendering="crispEdges" fill="none">
<rect x="90.5" y="104.5" width="843" height="294"/>
<path d="M90.5 104V100M90.5 398V404M95.5 104V100M95.5 398V404M100.5 104V100M100.5 398V404M105.5 104V100M105.5 398V404M110.5 104V100M110.5 398V404M115.5 104V100M115.5 398V404M120.5 104V100M120.5 398V404M125.5 104V100M125.5 398V404M130.5 104V100M130.5 398V404M135.5 104V100M135.5 398V404M140.5 104V100M140.5 398V404M145.5 104V100M145.5 398V404M150.5 104V100M150.5 398V404M155.5 104V100M155.5 398V404M160.5 104V100M160.5 398V404M164.5 104V100M164.5 398V404M169.5 104V100M169.5 398V404M174.5 104V100M174.5 398V404M179.5 104V100M179.5 398V404M184.5 104V100M184.5 398V404M189.5 104V95M189.5 398V408M194.5 104V100M194.5 398V404M199.5 104V100M199.5 398V404M204.5 104V100M204.5 398V404M209.5 104V100M209.5 398V404M214.5 104V100M214.5 398V404M219.5 104V100M219.5 398V404M224.5 104V100M224.5 398V404M229.5 104V100M229.5 398V404M234.5 104V100M234.5 398V404M239.5 104V100M239.5 398V404M244.5 104V100M244.5 398V404M249.5 104V100M249.5 398V404M254.5 104V100M254.5 398V404M259.5 104V100M259.5 398V404M264.5 104V100M264.5 398V404M269.5 104V100M269.5 398V404M274.5 104V100M274.5 398V404M279.5 104V100M279.5 398V404M284.5 104V100M284.5 398V404M289.5 104V100M289.5 398V404M294.5 104V100M294.5 398V404M299.5 104V100M299.5 398V404M304.5 104V100M304.5 398V404M309.5 104V95M309.5 398V408M314.5 104V100M314.5 398V404M319.5 104V100M319.5 398V404M324.5 104V100M324.5 398V404M329.5 104V100M329.5 398V404M334.5 104V100M334.5 398V404M339.5 104V100M339.5 398V404M343.5 104V100M343.5 398V404M348.5 104V100M348.5 398V404M353.5 104V100M353.5 398V404M358.5 104V100M358.5 398V404M363.5 104V100M363.5 398V404M368.5 104V100M368.5 398V404M373.5 104V100M373.5 398V404M378.5 104V100M378.5 398V404M383.5 104V100M383.5 398V404M388.5 104V100M388.5 398V404M393.5 104V100M393.5 398V404M398.5 104V100M398.5 398V404M403.5 104V100M403.5 398V404M408.5 104V100M408.5 398V404M413.5 104V100M413.5 398V404M418.5 104V100M418.5 398V404M423.5 104V100M423.5 398V404M428.5 104V95M428.5 398V408M433.5 104V100M433.5 398V404M438.5 104V100M438.5 398V404M443.5 104V100M443.5 398V404M448.5 104V100M448.5 398V404M453.5 104V100M453.5 398V404M458.5 104V100M458.5 398V404M463.5 104V100M463.5 398V404M468.5 104V100M468.5 398V404M473.5 104V100M473.5 398V404M478.5 104V100M478.5 398V404M483.5 104V100M483.5 398V404M488.5 104V100M488.5 398V404M493.5 104V100M493.5 398V404M498.5 104V100M498.5 398V404M503.5 104V100M503.5 398V404M508.5 104V100M508.5 398V404M513.5 104V100M513.5 398V404M518.5 104V100M518.5 398V404M522.5 104V100M522.5 398V404M527.5 104V100M527.5 398V404M532.5 104V100M532.5 398V404M537.5 104V100M537.5 398V404M542.5 104V100M542.5 398V404M547.5 104V95M547.5 398V408M552.5 104V100M552.5 398V404M557.5 104V100M557.5 398V404M562.5 104V100M562.5 398V404M567.5 104V100M567.5 398V404M572.5 104V100M572.5 398V404M577.5 104V100M577.5 398V404M582.5 104V100M582.5 398V404M587.5 104V100M587.5 398V404M592.5 104V100M592.5 398V404M597.5 104V100M597.5 398V404M602.5 104V100M602.5 398V404M607.5 104V100M607.5 398V404M612.5 104V100M612.5 398V404M617.5 104V100M617.5 398V404M622.5 104V100M622.5 398V404M627.5 104V100M627.5 398V404M632.5 104V100M632.5 398V404M637.5 104V100M637.5 398V404M642.5 104V100M642.5 398V404M647.5 104V100M647.5 398V404M652.5 104V100M652.5 398V404M657.5 104V100M657.5 398V404M662.5 104V100M662.5 398V404M667.5 104V95M667.5 398V408M672.5 104V100M672.5 398V404M677.5 104V100M677.5 398V404M682.5 104V100M682.5 398V404M687.5 104V100M687.5 398V404M692.5 104V100M692.5 398V404M697.5 104V100M697.5 398V404M701.5 104V100M701.5 398V404M706.5 104V100M706.5 398V404M711.5 104V100M711.5 398V404M716.5 104V100M716.5 398V404M721.5 104V100M721.5 398V404M726.5 104V100M726.5 398V404M731.5 104V100M731.5 398V404M736.5 104V100M736.5 398V404M741.5 104V100M741.5 398V404M746.5 104V100M746.5 398V404M751.5 104V100M751.5 398V404M756.5 104V100M756.5 398V404M761.5 104V100M761.5 398V404M766.5 104V100M766.5 398V404M771.5 104V100M771.5 398V404M776.5 104V100M776.5 398V404M781.5 104V100M781.5 398V404M786.5 104V95M786.5 398V408M791.5 104V100M791.5 398V404M796.5 104V100M796.5 398V404M801.5 104V100M801.5 398V404M806.5 104V100M806.5 398V404M811.5 104V100M811.5 398V404M816.5 104V100M816.5 398V404M821.5 104V100M821.5 398V404M826.5 104V100M826.5 398V404M831.5 104V100M831.5 398V404M836.5 104V100M836.5 398V404M841.5 104V100M841.5 398V404M846.5 104V100M846.5 398V404M851.5 104V100M851.5 398V404M856.5 104V100M856.5 398V404M861.5 104V100M861.5 398V404M866.5 104V100M866.5 398V404M871.5 104V100M871.5 398V404M876.5 104V100M876.5 398V404M880.5 104V100M880.5 398V404M885.5 104V100M885.5 398V404M890.5 104V100M890.5 398V404M895.5 104V100M895.5 398V404M900.5 104V100M900.5 398V404M905.5 104V95M905.5 398V408M910.5 104V100M910.5 398V404M915.5 104V100M915.5 398V404M920.5 104V100M920.5 398V404M925.5 104V100M925.5 398V404M930.5 104V100M930.5 398V404M81 123.5H90M933 123.5H944M81 143.5H90M933 143.5H944M81 162.5H90M933 162.5H944M81 182.5H90M933 182.5H944M81 202.5H90M933 202.5H944M81 221.5H90M933 221.5H944M81 241.5H90M933 241.5H944M81 261.5H90M933 261.5H944M81 280.5H90M933 280.5H944M81 300.5H90M933 300.5H944M81 320.5H90M933 320.5H944M81 339.5H90M933 339.5H944M81 359.5H90M933 359.5H944M81 378.5H90M933 378.5H944M81 398.5H90M933 398.5H944"/>
</g>
<text x="61.77" y="127.90" font-size="12.70" textLength="13.92" lengthAdjust="spacingAndGlyphs" style='font-family:"Liberation Sans",sans-serif'>20</text>
<text x="61.76" y="166.90" font-size="12.70" textLength="13.92" lengthAdjust="spacingAndGlyphs" style='font-family:"Liberation Sans",sans-serif'>60</text>
<text x="53.80" y="206.90" font-size="12.70" textLength="21.91" lengthAdjust="spacingAndGlyphs" style='font-family:"Liberation Sans",sans-serif'>100</text>
<text x="53.80" y="245.90" font-size="12.70" textLength="21.91" lengthAdjust="spacingAndGlyphs" style='font-family:"Liberation Sans",sans-serif'>140</text>
<text x="53.80" y="284.90" font-size="12.70" textLength="21.91" lengthAdjust="spacingAndGlyphs" style='font-family:"Liberation Sans",sans-serif'>180</text>
<text x="54.15" y="324.90" font-size="12.70" textLength="21.55" lengthAdjust="spacingAndGlyphs" style='font-family:"Liberation Sans",sans-serif'>220</text>
<text x="54.15" y="363.90" font-size="12.70" textLength="21.55" lengthAdjust="spacingAndGlyphs" style='font-family:"Liberation Sans",sans-serif'>260</text>
<text x="54.31" y="402.90" font-size="12.70" textLength="21.39" lengthAdjust="spacingAndGlyphs" style='font-family:"Liberation Sans",sans-serif'>300</text>
<text transform="translate(44.8,287.3) rotate(-90)" x="-1.01" y="0" font-size="12.9" textLength="41.71" lengthAdjust="spacingAndGlyphs">DEPTH</text>
<text transform="translate(44.8,287.3) rotate(-90)" x="48.57" y="0" font-size="12.9" textLength="24.86" lengthAdjust="spacingAndGlyphs">(m)</text>
<text x="93.45" y="418.60" font-size="11.60" textLength="14.16" lengthAdjust="spacingAndGlyphs" style='font-family:"Liberation Sans",sans-serif'>06</text>
<text x="122.94" y="418.60" font-size="11.60" textLength="14.78" lengthAdjust="spacingAndGlyphs" style='font-family:"Liberation Sans",sans-serif'>12</text>
<text x="152.94" y="418.60" font-size="11.60" textLength="14.68" lengthAdjust="spacingAndGlyphs" style='font-family:"Liberation Sans",sans-serif'>18</text>
<text x="182.46" y="418.60" font-size="11.60" textLength="14.09" lengthAdjust="spacingAndGlyphs" style='font-family:"Liberation Sans",sans-serif'>00</text>
<text x="212.45" y="418.60" font-size="11.60" textLength="14.16" lengthAdjust="spacingAndGlyphs" style='font-family:"Liberation Sans",sans-serif'>06</text>
<text x="241.94" y="418.60" font-size="11.60" textLength="14.78" lengthAdjust="spacingAndGlyphs" style='font-family:"Liberation Sans",sans-serif'>12</text>
<text x="271.94" y="418.60" font-size="11.60" textLength="14.68" lengthAdjust="spacingAndGlyphs" style='font-family:"Liberation Sans",sans-serif'>18</text>
<text x="302.46" y="418.60" font-size="11.60" textLength="14.09" lengthAdjust="spacingAndGlyphs" style='font-family:"Liberation Sans",sans-serif'>00</text>
<text x="332.45" y="418.60" font-size="11.60" textLength="14.16" lengthAdjust="spacingAndGlyphs" style='font-family:"Liberation Sans",sans-serif'>06</text>
<text x="360.94" y="418.60" font-size="11.60" textLength="14.78" lengthAdjust="spacingAndGlyphs" style='font-family:"Liberation Sans",sans-serif'>12</text>
<text x="390.94" y="418.60" font-size="11.60" textLength="14.68" lengthAdjust="spacingAndGlyphs" style='font-family:"Liberation Sans",sans-serif'>18</text>
<text x="421.46" y="418.60" font-size="11.60" textLength="14.09" lengthAdjust="spacingAndGlyphs" style='font-family:"Liberation Sans",sans-serif'>00</text>
<text x="451.45" y="418.60" font-size="11.60" textLength="14.16" lengthAdjust="spacingAndGlyphs" style='font-family:"Liberation Sans",sans-serif'>06</text>
<text x="480.94" y="418.60" font-size="11.60" textLength="14.78" lengthAdjust="spacingAndGlyphs" style='font-family:"Liberation Sans",sans-serif'>12</text>
<text x="510.94" y="418.60" font-size="11.60" textLength="14.68" lengthAdjust="spacingAndGlyphs" style='font-family:"Liberation Sans",sans-serif'>18</text>
<text x="540.46" y="418.60" font-size="11.60" textLength="14.09" lengthAdjust="spacingAndGlyphs" style='font-family:"Liberation Sans",sans-serif'>00</text>
<text x="570.45" y="418.60" font-size="11.60" textLength="14.16" lengthAdjust="spacingAndGlyphs" style='font-family:"Liberation Sans",sans-serif'>06</text>
<text x="599.94" y="418.60" font-size="11.60" textLength="14.78" lengthAdjust="spacingAndGlyphs" style='font-family:"Liberation Sans",sans-serif'>12</text>
<text x="629.94" y="418.60" font-size="11.60" textLength="14.68" lengthAdjust="spacingAndGlyphs" style='font-family:"Liberation Sans",sans-serif'>18</text>
<text x="660.46" y="418.60" font-size="11.60" textLength="14.09" lengthAdjust="spacingAndGlyphs" style='font-family:"Liberation Sans",sans-serif'>00</text>
<text x="690.45" y="418.60" font-size="11.60" textLength="14.16" lengthAdjust="spacingAndGlyphs" style='font-family:"Liberation Sans",sans-serif'>06</text>
<text x="718.94" y="418.60" font-size="11.60" textLength="14.78" lengthAdjust="spacingAndGlyphs" style='font-family:"Liberation Sans",sans-serif'>12</text>
<text x="748.94" y="418.60" font-size="11.60" textLength="14.68" lengthAdjust="spacingAndGlyphs" style='font-family:"Liberation Sans",sans-serif'>18</text>
<text x="779.46" y="418.60" font-size="11.60" textLength="14.09" lengthAdjust="spacingAndGlyphs" style='font-family:"Liberation Sans",sans-serif'>00</text>
<text x="809.45" y="418.60" font-size="11.60" textLength="14.16" lengthAdjust="spacingAndGlyphs" style='font-family:"Liberation Sans",sans-serif'>06</text>
<text x="838.94" y="418.60" font-size="11.60" textLength="14.78" lengthAdjust="spacingAndGlyphs" style='font-family:"Liberation Sans",sans-serif'>12</text>
<text x="868.94" y="418.60" font-size="11.60" textLength="14.68" lengthAdjust="spacingAndGlyphs" style='font-family:"Liberation Sans",sans-serif'>18</text>
<text x="898.46" y="418.60" font-size="11.60" textLength="14.09" lengthAdjust="spacingAndGlyphs" style='font-family:"Liberation Sans",sans-serif'>00</text>
<text x="106.88" y="438.80" font-size="18.00" textLength="31.86" lengthAdjust="spacingAndGlyphs" style='font-family:"Liberation Sans",sans-serif' stroke="#fff" stroke-width="0.39">SEP</text>
<text x="147.66" y="438.80" font-size="18.00" textLength="20.87" lengthAdjust="spacingAndGlyphs" style='font-family:"Liberation Sans",sans-serif' stroke="#fff" stroke-width="0.39">23</text>
<text x="212.68" y="438.80" font-size="18.00" textLength="31.86" lengthAdjust="spacingAndGlyphs" style='font-family:"Liberation Sans",sans-serif' stroke="#fff" stroke-width="0.39">SEP</text>
<text x="253.47" y="438.80" font-size="18.00" textLength="20.57" lengthAdjust="spacingAndGlyphs" style='font-family:"Liberation Sans",sans-serif' stroke="#fff" stroke-width="0.39">24</text>
<text x="332.48" y="438.80" font-size="18.00" textLength="31.86" lengthAdjust="spacingAndGlyphs" style='font-family:"Liberation Sans",sans-serif' stroke="#fff" stroke-width="0.39">SEP</text>
<text x="373.26" y="438.80" font-size="18.00" textLength="20.83" lengthAdjust="spacingAndGlyphs" style='font-family:"Liberation Sans",sans-serif' stroke="#fff" stroke-width="0.39">25</text>
<text x="451.48" y="438.80" font-size="18.00" textLength="31.86" lengthAdjust="spacingAndGlyphs" style='font-family:"Liberation Sans",sans-serif' stroke="#fff" stroke-width="0.39">SEP</text>
<text x="492.26" y="438.80" font-size="18.00" textLength="20.87" lengthAdjust="spacingAndGlyphs" style='font-family:"Liberation Sans",sans-serif' stroke="#fff" stroke-width="0.39">26</text>
<text x="571.18" y="438.80" font-size="18.00" textLength="31.86" lengthAdjust="spacingAndGlyphs" style='font-family:"Liberation Sans",sans-serif' stroke="#fff" stroke-width="0.39">SEP</text>
<text x="611.95" y="438.80" font-size="18.00" textLength="21.00" lengthAdjust="spacingAndGlyphs" style='font-family:"Liberation Sans",sans-serif' stroke="#fff" stroke-width="0.39">27</text>
<text x="690.08" y="438.80" font-size="18.00" textLength="31.86" lengthAdjust="spacingAndGlyphs" style='font-family:"Liberation Sans",sans-serif' stroke="#fff" stroke-width="0.39">SEP</text>
<text x="730.86" y="438.80" font-size="18.00" textLength="20.86" lengthAdjust="spacingAndGlyphs" style='font-family:"Liberation Sans",sans-serif' stroke="#fff" stroke-width="0.39">28</text>
<text x="809.78" y="438.80" font-size="18.00" textLength="31.86" lengthAdjust="spacingAndGlyphs" style='font-family:"Liberation Sans",sans-serif' stroke="#fff" stroke-width="0.39">SEP</text>
<text x="850.55" y="438.80" font-size="18.00" textLength="20.94" lengthAdjust="spacingAndGlyphs" style='font-family:"Liberation Sans",sans-serif' stroke="#fff" stroke-width="0.39">29</text>
<text x="883.58" y="438.80" font-size="18.00" textLength="31.86" lengthAdjust="spacingAndGlyphs" style='font-family:"Liberation Sans",sans-serif' stroke="#fff" stroke-width="0.39">SEP</text>
<text x="924.60" y="438.80" font-size="18.00" textLength="20.52" lengthAdjust="spacingAndGlyphs" style='font-family:"Liberation Sans",sans-serif' stroke="#fff" stroke-width="0.39">30</text>
<text transform="translate(400.40,476.00) scale(1.200,1)" x="-1.61" y="0" font-size="24.00" textLength="35.60" lengthAdjust="spacing" style='font-family:"Liberation Serif",serif'>Sea</text>
<text transform="translate(453.90,476.00) scale(1.200,1)" x="-0.02" y="0" font-size="24.00" textLength="54.32" lengthAdjust="spacing" style='font-family:"Liberation Serif",serif'>Water</text>
<text transform="translate(533.20,476.00) scale(1.200,1)" x="-1.61" y="0" font-size="24.00" textLength="77.45" lengthAdjust="spacing" style='font-family:"Liberation Serif",serif'>Salinity</text>
<g shape-rendering="crispEdges"><rect x="948" y="104" width="23" height="11" fill="#990000"/><rect x="948" y="115" width="23" height="10" fill="#c00000"/><rect x="948" y="125" width="23" height="10" fill="#e00000"/><rect x="948" y="135" width="23" height="10" fill="#ff0000"/><rect x="948" y="145" width="23" height="10" fill="#ff3300"/><rect x="948" y="155" width="23" height="10" fill="#ff6000"/><rect x="948" y="165" width="23" height="10" fill="#ff8000"/><rect x="948" y="175" width="23" height="10" fill="#ff9a00"/><rect x="948" y="185" width="23" height="11" fill="#ffbb00"/><rect x="948" y="196" width="23" height="10" fill="#ffe400"/><rect x="948" y="206" width="23" height="10" fill="#f2f900"/><rect x="948" y="216" width="23" height="10" fill="#d7ec0b"/><rect x="948" y="226" width="23" height="10" fill="#bee514"/><rect x="948" y="236" width="23" height="10" fill="#a3d71d"/><rect x="948" y="246" width="23" height="10" fill="#87cb28"/><rect x="948" y="256" width="23" height="10" fill="#6ac12f"/><rect x="948" y="266" width="23" height="11" fill="#4cb636"/><rect x="948" y="277" width="23" height="10" fill="#33aa3e"/><rect x="948" y="287" width="23" height="10" fill="#18a048"/><rect x="948" y="297" width="23" height="10" fill="#0d9854"/><rect x="948" y="307" width="23" height="10" fill="#178670"/><rect x="948" y="317" width="23" height="10" fill="#207a8a"/><rect x="948" y="327" width="23" height="10" fill="#3066b0"/><rect x="948" y="337" width="23" height="10" fill="#3a55c8"/><rect x="948" y="347" width="23" height="11" fill="#3f48e0"/><rect x="948" y="358" width="23" height="10" fill="#4444ff"/><rect x="948" y="368" width="23" height="10" fill="#7722ff"/><rect x="948" y="378" width="23" height="10" fill="#aa11ff"/><rect x="948" y="388" width="23" height="10" fill="#dd00ff"/></g>
<path d="M948.5 104V399M970.5 104V399M948 104.5H971M948 115.5H971M948 125.5H971M948 135.5H971M948 145.5H971M948 155.5H971M948 165.5H971M948 175.5H971M948 185.5H971M948 196.5H971M948 206.5H971M948 216.5H971M948 226.5H971M948 236.5H971M948 246.5H971M948 256.5H971M948 266.5H971M948 277.5H971M948 287.5H971M948 297.5H971M948 307.5H971M948 317.5H971M948 327.5H971M948 337.5H971M948 347.5H971M948 358.5H971M948 368.5H971M948 378.5H971M948 388.5H971M948 398.5H971" stroke="#000" stroke-width="1" shape-rendering="crispEdges" fill="none"/>
<text x="974.30" y="118.90" font-size="11.30" textLength="25.35" lengthAdjust="spacingAndGlyphs" style='font-family:"Liberation Sans",sans-serif'>35.2</text>
<text x="974.31" y="138.90" font-size="11.30" textLength="14.22" lengthAdjust="spacingAndGlyphs" style='font-family:"Liberation Sans",sans-serif'>35</text>
<text x="974.31" y="158.90" font-size="11.30" textLength="25.26" lengthAdjust="spacingAndGlyphs" style='font-family:"Liberation Sans",sans-serif'>34.8</text>
<text x="974.31" y="178.90" font-size="11.30" textLength="25.26" lengthAdjust="spacingAndGlyphs" style='font-family:"Liberation Sans",sans-serif'>34.6</text>
<text x="974.31" y="199.90" font-size="11.30" textLength="25.07" lengthAdjust="spacingAndGlyphs" style='font-family:"Liberation Sans",sans-serif'>34.4</text>
<text x="974.30" y="219.90" font-size="11.30" textLength="25.35" lengthAdjust="spacingAndGlyphs" style='font-family:"Liberation Sans",sans-serif'>34.2</text>
<text x="974.32" y="239.90" font-size="11.30" textLength="14.05" lengthAdjust="spacingAndGlyphs" style='font-family:"Liberation Sans",sans-serif'>34</text>
<text x="974.31" y="259.90" font-size="11.30" textLength="25.26" lengthAdjust="spacingAndGlyphs" style='font-family:"Liberation Sans",sans-serif'>33.8</text>
<text x="974.31" y="280.90" font-size="11.30" textLength="25.26" lengthAdjust="spacingAndGlyphs" style='font-family:"Liberation Sans",sans-serif'>33.6</text>
<text x="974.31" y="300.90" font-size="11.30" textLength="25.07" lengthAdjust="spacingAndGlyphs" style='font-family:"Liberation Sans",sans-serif'>33.4</text>
<text x="974.30" y="320.90" font-size="11.30" textLength="25.35" lengthAdjust="spacingAndGlyphs" style='font-family:"Liberation Sans",sans-serif'>33.2</text>
<text x="974.31" y="340.90" font-size="11.30" textLength="14.25" lengthAdjust="spacingAndGlyphs" style='font-family:"Liberation Sans",sans-serif'>33</text>
<text x="974.31" y="361.90" font-size="11.30" textLength="25.26" lengthAdjust="spacingAndGlyphs" style='font-family:"Liberation Sans",sans-serif'>32.8</text>
<text x="974.31" y="381.90" font-size="11.30" textLength="25.26" lengthAdjust="spacingAndGlyphs" style='font-family:"Liberation Sans",sans-serif'>32.6</text>
<text x="974.31" y="401.90" font-size="11.30" textLength="25.07" lengthAdjust="spacingAndGlyphs" style='font-family:"Liberation Sans",sans-serif'>32.4</text>
</svg></body></html>
